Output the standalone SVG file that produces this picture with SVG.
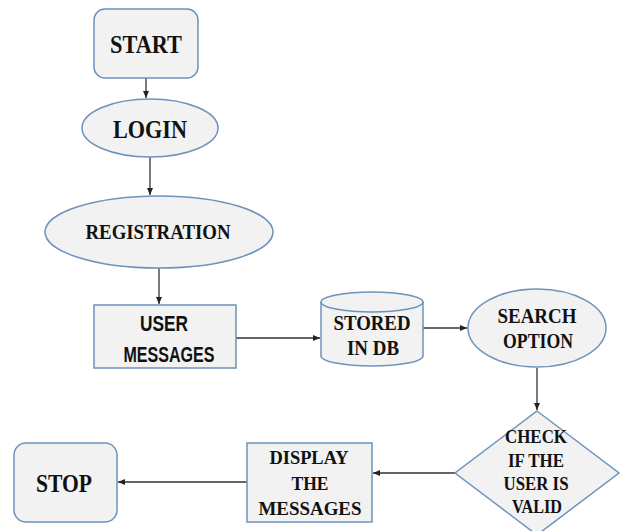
<svg xmlns="http://www.w3.org/2000/svg" width="623" height="531" viewBox="0 0 623 531">
<style>
.shape{fill:#f2f2f2;stroke:#6d93bd;stroke-width:1.5}
.t{font-family:"Liberation Serif","Times New Roman",serif;font-weight:bold;fill:#111;text-anchor:middle}
.s{font-family:"Liberation Sans",Arial,sans-serif;font-weight:bold;fill:#111;text-anchor:middle}
.c{stroke:#333;stroke-width:1.3;fill:none;marker-end:url(#ah)}
</style>
<defs>
<marker id="ah" markerWidth="8" markerHeight="8" refX="7" refY="4" orient="auto" markerUnits="userSpaceOnUse">
<path d="M0,1 L7,4 L0,7 Z" fill="#222"/>
</marker>
</defs>
<rect width="623" height="531" fill="#fff"/>
<g id="connectors">
<path class="c" d="M146,78 V98"/>
<path class="c" d="M150,157 V195"/>
<path class="c" d="M159,268 V304"/>
<path class="c" d="M236,338 H320"/>
<path class="c" d="M423,328 H467"/>
<path class="c" d="M537,368 V410"/>
<path class="c" d="M455,473 H373"/>
<path class="c" d="M247,482 H118"/>
</g>
<g id="start">
<rect class="shape" x="94" y="9" width="104" height="69" rx="11"/>
<text class="t" x="146" y="53" font-size="26" textLength="72" lengthAdjust="spacingAndGlyphs">START</text>
</g>
<g id="login">
<ellipse class="shape" cx="150" cy="128" rx="68" ry="29"/>
<text class="t" x="150" y="138" font-size="26" textLength="74" lengthAdjust="spacingAndGlyphs">LOGIN</text>
</g>
<g id="registration">
<ellipse class="shape" cx="159" cy="232" rx="114" ry="36"/>
<text class="t" x="158" y="239" font-size="21" textLength="145" lengthAdjust="spacingAndGlyphs">REGISTRATION</text>
</g>
<g id="user-messages">
<rect class="shape" x="94" y="305" width="142" height="63"/>
<text class="s" x="164" y="331" font-size="22" textLength="48" lengthAdjust="spacingAndGlyphs">USER</text>
<text class="s" x="169" y="362" font-size="22" textLength="91" lengthAdjust="spacingAndGlyphs">MESSAGES</text>
</g>
<g id="stored-in-db">
<path class="shape" d="M321,302 V356 A51,10 0 0 0 423,356 V302"/>
<ellipse class="shape" cx="372" cy="302" rx="51" ry="10"/>
<text class="t" x="372" y="330" font-size="21" textLength="77" lengthAdjust="spacingAndGlyphs">STORED</text>
<text class="t" x="373" y="355" font-size="21" textLength="52" lengthAdjust="spacingAndGlyphs">IN DB</text>
</g>
<g id="search-option">
<ellipse class="shape" cx="537" cy="328" rx="69" ry="39"/>
<text class="t" x="537" y="323" font-size="21" textLength="79" lengthAdjust="spacingAndGlyphs">SEARCH</text>
<text class="t" x="538" y="348" font-size="21" textLength="70" lengthAdjust="spacingAndGlyphs">OPTION</text>
</g>
<g id="check-valid">
<polygon class="shape" points="537,411 619,473 537,535 455,473"/>
<text class="t" x="536" y="443" font-size="19" textLength="62" lengthAdjust="spacingAndGlyphs">CHECK</text>
<text class="t" x="536" y="467" font-size="19" textLength="56" lengthAdjust="spacingAndGlyphs">IF THE</text>
<text class="t" x="536" y="490" font-size="19" textLength="65" lengthAdjust="spacingAndGlyphs">USER IS</text>
<text class="t" x="537" y="513" font-size="19" textLength="50" lengthAdjust="spacingAndGlyphs">VALID</text>
</g>
<g id="display-messages">
<rect class="shape" x="247" y="443" width="125" height="79"/>
<text class="t" x="309" y="464" font-size="19" textLength="79" lengthAdjust="spacingAndGlyphs">DISPLAY</text>
<text class="t" x="310" y="490" font-size="19" textLength="37" lengthAdjust="spacingAndGlyphs">THE</text>
<text class="t" x="310" y="515" font-size="19" textLength="103" lengthAdjust="spacingAndGlyphs">MESSAGES</text>
</g>
<g id="stop">
<rect class="shape" x="14" y="443" width="103" height="79" rx="12"/>
<text class="t" x="64" y="492" font-size="26" textLength="56" lengthAdjust="spacingAndGlyphs">STOP</text>
</g>
</svg>
